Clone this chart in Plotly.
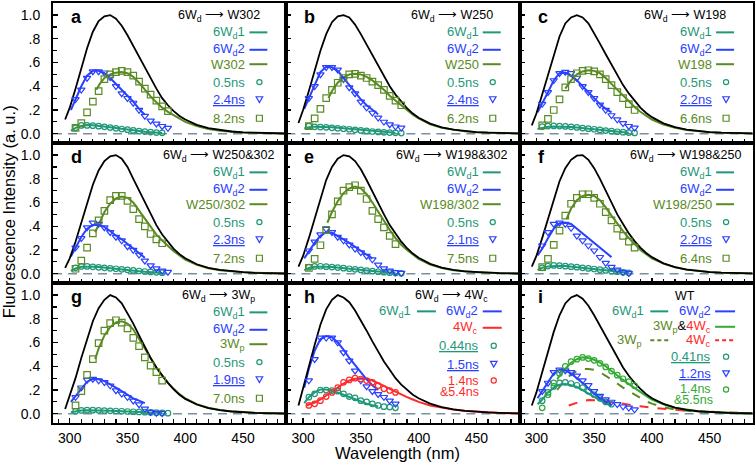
import plotly.graph_objects as go
from plotly.subplots import make_subplots

# ---------------- data ----------------
BLACK_X = [296, 300, 305, 310, 315, 320, 325, 330, 335, 340, 345, 350, 355, 360, 365, 370,
           375, 380, 385, 390, 395, 400, 410, 420, 430, 440, 450, 460, 470, 480, 487]
SYM_X = [305, 310, 315, 320, 325, 330, 335, 340, 345, 350, 355, 360, 365, 370, 375, 380, 385]
DFIT_X = [301, 305, 310, 315, 320, 325, 330, 335, 340, 345, 350, 355, 360, 365]
D1FIT_X = [301, 305, 310, 315, 320, 325, 330, 335, 340, 345, 350, 355, 360, 365, 370, 375, 380]

# panel a
A_BLACK = [0.12, 0.22, 0.38, 0.55, 0.72, 0.86, 0.95, 0.99, 1.0, 0.97, 0.91, 0.83, 0.74, 0.65, 0.56, 0.46,
           0.38, 0.30, 0.24, 0.19, 0.15, 0.12, 0.075, 0.047, 0.03, 0.019, 0.012, 0.008, 0.005, 0.003, 0.002]
A_TRI = [0.29, 0.37, 0.47, 0.525, 0.525, 0.515, 0.475, 0.40, 0.34, 0.30, 0.26, 0.20, 0.15, 0.11, 0.085, 0.064, 0.048]
A_CIR = [0.05, 0.07, 0.07, 0.068, 0.064, 0.058, 0.052, 0.046, 0.04, 0.034, 0.028, 0.022, 0.018, 0.014, 0.01, 0.008, None]
A_SQR = [0.05, 0.09, 0.18, 0.27, 0.36, 0.46, 0.50, 0.52, 0.53, 0.52, 0.49, 0.44, 0.38, 0.33, 0.28, 0.23, 0.19]
A_D2FIT = [0.2, 0.29, 0.4, 0.49, 0.53, 0.53, 0.51, 0.47, 0.42, 0.37, 0.32, 0.27, 0.21, 0.16]
A_D1FIT = [0.025, 0.05, 0.066, 0.073, 0.072, 0.068, 0.062, 0.055, 0.048, 0.041, 0.034, 0.028, 0.022, 0.017, 0.013, 0.01, 0.007]
A_ACC_X = [323, 326, 330, 335, 340, 345, 350, 355, 360, 365, 370, 375, 380, 385, 390, 395, 400,
           410, 420, 430, 440, 450, 460, 470, 480, 487]
A_ACC = [0.37, 0.42, 0.47, 0.50, 0.515, 0.52, 0.51, 0.48, 0.43, 0.37, 0.315, 0.265, 0.22, 0.185, 0.155, 0.125, 0.1,
         0.065, 0.04, 0.026, 0.016, 0.01, 0.006, 0.004, 0.003, 0.002]

# panel b
B_BLACK = [0.09, 0.2, 0.36, 0.53, 0.7, 0.84, 0.94, 0.99, 1.0, 0.98, 0.92, 0.84, 0.75, 0.66, 0.57, 0.48,
           0.4, 0.33, 0.27, 0.215, 0.17, 0.135, 0.085, 0.053, 0.034, 0.022, 0.014, 0.009, 0.006, 0.004, 0.003]
B_TRI = [0.30, 0.40, 0.50, 0.56, 0.56, 0.54, 0.46, 0.39, 0.34, 0.27, 0.22, 0.176, 0.134, 0.1, 0.078, 0.06, 0.05]
B_CIR = [0.064, 0.058, 0.056, 0.054, 0.05, 0.046, 0.042, 0.038, 0.033, 0.028, 0.024, 0.019, 0.015, 0.012, 0.01, 0.008, 0.006]
B_SQR = [0.065, 0.13, 0.21, 0.30, 0.37, 0.43, 0.47, 0.50, 0.505, 0.49, 0.47, 0.44, 0.41, 0.37, 0.32, 0.28, 0.24]
B_D2FIT = [0.21, 0.3, 0.42, 0.52, 0.565, 0.56, 0.53, 0.47, 0.41, 0.35, 0.29, 0.24, 0.2, 0.165]
B_D1FIT = [0.045, 0.055, 0.06, 0.06, 0.058, 0.055, 0.051, 0.047, 0.042, 0.037, 0.032, 0.027, 0.022, 0.018, 0.014, 0.011, 0.008]
B_ACC_X = [322, 325, 330, 335, 340, 345, 350, 355, 360, 365, 370, 375, 380, 385, 390, 395, 400,
           410, 420, 430, 440, 450, 460, 470, 480, 487]
B_ACC = [0.3, 0.36, 0.43, 0.475, 0.5, 0.505, 0.5, 0.48, 0.45, 0.41, 0.37, 0.32, 0.28, 0.235, 0.195, 0.16, 0.13,
         0.08, 0.05, 0.032, 0.02, 0.013, 0.008, 0.005, 0.004, 0.003]

# panel c
C_BLACK = [0.07, 0.17, 0.33, 0.5, 0.67, 0.82, 0.93, 0.98, 1.0, 0.98, 0.93, 0.85, 0.76, 0.67, 0.58, 0.49,
           0.41, 0.34, 0.275, 0.22, 0.175, 0.14, 0.088, 0.055, 0.035, 0.022, 0.014, 0.009, 0.006, 0.004, 0.003]
C_TRI = [0.25, 0.35, 0.45, 0.51, 0.52, 0.51, 0.47, 0.40, 0.35, 0.30, 0.245, 0.2, 0.155, 0.12, 0.088, 0.064, 0.05]
C_CIR = [0.06, 0.065, 0.066, 0.065, 0.062, 0.058, 0.053, 0.048, 0.043, 0.038, 0.032, 0.027, 0.022, 0.017, 0.013, 0.01, 0.007]
C_SQR = [0.07, 0.125, 0.2, 0.29, 0.39, 0.46, 0.51, 0.53, 0.535, 0.525, 0.5, 0.46, 0.41, 0.35, 0.3, 0.25, 0.2]
C_D2FIT = [0.18, 0.25, 0.35, 0.45, 0.51, 0.515, 0.49, 0.45, 0.4, 0.35, 0.3, 0.25, 0.21, 0.18]
C_D1FIT = [0.04, 0.05, 0.058, 0.062, 0.062, 0.06, 0.056, 0.052, 0.047, 0.042, 0.036, 0.03, 0.025, 0.02, 0.015, 0.011, 0.008]
C_ACC_X = [325, 330, 335, 340, 345, 350, 355, 360, 365, 370, 375, 380, 385, 390, 395, 400,
           410, 420, 430, 440, 450, 460, 470, 480, 487]
C_ACC = [0.38, 0.45, 0.5, 0.525, 0.535, 0.53, 0.51, 0.47, 0.42, 0.37, 0.32, 0.27, 0.225, 0.185, 0.15, 0.12,
         0.078, 0.05, 0.032, 0.02, 0.013, 0.008, 0.005, 0.004, 0.003]

# panel d
D_BLACK = [0.05, 0.13, 0.27, 0.43, 0.6, 0.75, 0.87, 0.95, 0.99, 1.0, 0.97, 0.9, 0.8, 0.7, 0.6, 0.5,
           0.41, 0.33, 0.265, 0.21, 0.165, 0.13, 0.08, 0.05, 0.032, 0.02, 0.013, 0.008, 0.005, 0.003, 0.002]
D_TRI = [0.22, 0.3, 0.39, 0.43, 0.42, 0.39, 0.35, 0.31, 0.28, 0.23, 0.2, 0.16, 0.11, 0.07, 0.045, 0.025, 0.015]
D_CIR = [0.05, 0.062, 0.062, 0.058, 0.054, 0.05, 0.046, 0.042, 0.037, 0.033, 0.028, 0.023, 0.019, 0.015, 0.012, 0.009, None]
D_SQR = [0.042, 0.11, 0.22, 0.34, 0.45, 0.53, 0.62, 0.656, 0.656, 0.615, 0.545, 0.46, 0.4, 0.335, 0.29, 0.257, None]
D_D2FIT = [0.145, 0.22, 0.31, 0.38, 0.41, 0.41, 0.395, 0.36, 0.32, 0.29, 0.25, 0.21, 0.17, 0.135]
D_D1FIT = [0.025, 0.045, 0.058, 0.062, 0.06, 0.056, 0.052, 0.047, 0.042, 0.037, 0.032, 0.027, 0.022, 0.017, 0.013, 0.01, 0.007]
D_ACC_X = [322, 325, 330, 335, 340, 345, 350, 355, 360, 365, 370, 375, 380, 385, 390, 395, 400,
           410, 420, 430, 440, 450, 460, 470, 480, 487]
D_ACC = [0.35, 0.42, 0.52, 0.59, 0.635, 0.65, 0.64, 0.6, 0.53, 0.46, 0.39, 0.33, 0.28, 0.235, 0.19, 0.155, 0.12,
         0.075, 0.047, 0.03, 0.019, 0.012, 0.008, 0.005, 0.003, 0.002]

# panel e
E_BLACK = [0.06, 0.15, 0.3, 0.47, 0.64, 0.79, 0.9, 0.97, 1.0, 0.99, 0.95, 0.88, 0.79, 0.69, 0.59, 0.5,
           0.41, 0.335, 0.27, 0.215, 0.17, 0.135, 0.083, 0.051, 0.032, 0.02, 0.013, 0.008, 0.005, 0.003, 0.002]
E_TRI = [0.195, 0.27, 0.33, 0.377, 0.35, 0.31, 0.28, 0.245, 0.21, 0.18, 0.15, 0.12, 0.075, 0.045, 0.025, 0.012, 0.006]
E_CIR = [0.055, 0.062, 0.063, 0.06, 0.056, 0.052, 0.047, 0.042, 0.037, 0.032, 0.027, 0.022, 0.017, 0.013, 0.009, 0.006, 0.004]
E_SQR = [0.05, 0.126, 0.24, 0.37, 0.5, 0.61, 0.7, 0.73, 0.746, 0.7, 0.63, 0.53, 0.46, 0.39, 0.32, 0.25, None]
E_D2FIT = [0.13, 0.19, 0.26, 0.32, 0.35, 0.345, 0.32, 0.29, 0.26, 0.225, 0.19, 0.16, 0.13, None]
E_D1FIT = [0.03, 0.048, 0.058, 0.062, 0.06, 0.057, 0.053, 0.048, 0.043, 0.038, 0.033, 0.028, 0.023, 0.018, 0.013, 0.009, 0.006]
E_ACC_X = [321, 325, 330, 335, 340, 345, 350, 355, 360, 365, 370, 375, 380, 385, 390, 395, 400,
           410, 420, 430, 440, 450, 460, 470, 480, 487]
E_ACC = [0.43, 0.52, 0.61, 0.68, 0.72, 0.735, 0.72, 0.67, 0.6, 0.52, 0.44, 0.37, 0.3, 0.245, 0.2, 0.16, 0.125,
         0.078, 0.048, 0.03, 0.019, 0.012, 0.008, 0.005, 0.003, 0.002]

# panel f
F_BLACK = [0.06, 0.15, 0.3, 0.46, 0.63, 0.78, 0.89, 0.96, 0.995, 1.0, 0.96, 0.89, 0.8, 0.7, 0.6, 0.5,
           0.42, 0.34, 0.275, 0.22, 0.175, 0.14, 0.088, 0.055, 0.035, 0.022, 0.014, 0.009, 0.006, 0.004, 0.003]
F_TRI = [0.237, 0.35, 0.42, 0.43, 0.42, 0.385, 0.32, 0.28, 0.237, 0.195, 0.14, 0.09, 0.056, 0.034, 0.014, 0.004, None]
F_CIR = [0.05, 0.065, 0.07, 0.068, 0.064, 0.06, 0.055, 0.05, 0.045, 0.04, 0.034, 0.028, 0.022, 0.017, 0.012, 0.008, None]
F_SQR = [0.056, 0.126, 0.243, 0.363, 0.49, 0.59, 0.64, 0.67, 0.67, 0.64, 0.59, 0.52, 0.45, 0.38, 0.32, 0.27, 0.22]
F_D2FIT = [0.155, 0.21, 0.3, 0.38, 0.425, 0.43, 0.42, 0.38, 0.34, 0.3, 0.26, 0.22, 0.18, 0.14]
F_D1FIT = [0.03, 0.05, 0.062, 0.068, 0.068, 0.065, 0.06, 0.055, 0.049, 0.043, 0.037, 0.031, 0.025, 0.02, 0.015, 0.011, 0.008]
F_ACC_X = [326, 330, 335, 340, 345, 350, 355, 360, 365, 370, 375, 380, 385, 390, 395, 400,
           410, 420, 430, 440, 450, 460, 470, 480, 487]
F_ACC = [0.46, 0.55, 0.62, 0.655, 0.665, 0.655, 0.62, 0.56, 0.49, 0.42, 0.36, 0.3, 0.25, 0.2, 0.165, 0.13,
         0.085, 0.055, 0.035, 0.022, 0.014, 0.009, 0.006, 0.004, 0.003]

# panel g
G_BLACK = [0.04, 0.15, 0.3, 0.47, 0.63, 0.78, 0.89, 0.96, 1.0, 0.98, 0.93, 0.85, 0.76, 0.66, 0.56, 0.47,
           0.39, 0.32, 0.26, 0.205, 0.16, 0.125, 0.078, 0.048, 0.03, 0.019, 0.012, 0.008, 0.005, 0.003, 0.002]
G_TRI = [0.14, 0.22, 0.285, 0.293, 0.28, 0.265, 0.237, 0.196, 0.168, 0.14, 0.11, 0.078, 0.042, 0.014, 0.006, 0.004, None]
G_CIR = [0.02, 0.028, 0.03, 0.03, 0.029, 0.027, 0.025, 0.023, 0.021, 0.019, 0.017, 0.015, 0.013, 0.011, 0.009, 0.007, 0.005]
G_SQR = [0.07, 0.19, 0.327, 0.46, 0.595, 0.7, 0.763, 0.788, 0.768, 0.72, 0.64, 0.57, 0.475, 0.405, 0.35, 0.28, None]
G_D2FIT = [0.1, 0.15, 0.21, 0.27, 0.295, 0.29, 0.275, 0.25, 0.22, 0.19, 0.16, 0.13, 0.11, 0.09]
G_D1FIT = [0.012, 0.02, 0.027, 0.03, 0.03, 0.029, 0.027, 0.025, 0.023, 0.021, 0.019, 0.017, 0.015, 0.013, 0.011, 0.009, 0.007]
G_ACC_X = [322, 325, 330, 335, 340, 345, 350, 355, 360, 365, 370, 375, 380, 385, 390, 395, 400,
           410, 420, 430, 440, 450, 460, 470, 480, 487]
G_ACC = [0.46, 0.55, 0.66, 0.73, 0.77, 0.78, 0.76, 0.71, 0.63, 0.55, 0.46, 0.39, 0.32, 0.26, 0.21, 0.165, 0.13,
         0.08, 0.05, 0.031, 0.02, 0.012, 0.008, 0.005, 0.003, 0.002]

# panel h
H_BLACK = [0.07, 0.22, 0.4, 0.58, 0.75, 0.88, 0.96, 1.0, 0.98, 0.94, 0.87, 0.79, 0.7, 0.61, 0.52, 0.44,
           0.37, 0.3, 0.245, 0.2, 0.16, 0.13, 0.085, 0.055, 0.036, 0.024, 0.016, 0.011, 0.007, 0.005, 0.003]
H_TRI = [0.28, 0.46, 0.64, 0.64, 0.64, 0.6, 0.517, 0.447, 0.363, 0.28, 0.23, 0.19, 0.165, 0.14, 0.11, 0.084, None]
H_CIR = [0.14, 0.168, 0.2, 0.2, 0.195, 0.19, 0.168, 0.145, 0.134, 0.11, 0.1, 0.084, 0.07, 0.06, 0.056, 0.05, None]
H_RCIR = [0.07, 0.084, 0.11, 0.145, 0.18, 0.22, 0.265, 0.285, 0.3, 0.293, 0.28, 0.265, 0.237, 0.21, 0.196, 0.18, None]
H_D2FIT = [0.22, 0.38, 0.53, 0.63, 0.655, 0.645, 0.6, 0.54, 0.47, 0.41, 0.35, 0.29, 0.24, 0.2]
H_D1FIT = [0.09, 0.14, 0.18, 0.205, 0.205, 0.195, 0.18, 0.16, 0.14, 0.12, 0.1, 0.085, 0.072, 0.062, None, None, None]
H_RED_X = [303, 310, 315, 320, 325, 330, 335, 340, 345, 350, 355, 360, 365, 370, 375, 380, 385, 390, 395, 400,
           410, 420, 430, 440, 450, 460, 470, 480, 487]
H_RED = [0.07, 0.095, 0.12, 0.15, 0.185, 0.22, 0.255, 0.28, 0.295, 0.3, 0.295, 0.28, 0.26, 0.235, 0.21, 0.185,
         0.16, 0.14, 0.12, 0.1, 0.07, 0.05, 0.035, 0.025, 0.017, 0.011, 0.007, 0.005, 0.004]

# panel i
I_BLACK = [0.07, 0.18, 0.35, 0.52, 0.69, 0.83, 0.93, 0.98, 1.0, 0.97, 0.91, 0.83, 0.74, 0.65, 0.56, 0.47,
           0.39, 0.32, 0.26, 0.21, 0.165, 0.13, 0.083, 0.052, 0.033, 0.021, 0.014, 0.009, 0.006, 0.004, 0.003]
I_TRI = [0.19, 0.26, 0.35, 0.37, 0.365, 0.35, 0.32, 0.28, 0.24, 0.19, 0.15, 0.12, 0.1, 0.08, 0.06, 0.05, 0.035]
I_CIR = [0.11, 0.18, 0.23, 0.26, 0.265, 0.255, 0.24, 0.22, 0.19, 0.16, 0.13, 0.1, 0.08, None, None, None, None]
I_GCIR = [0.05, 0.16, 0.26, 0.34, 0.4, 0.44, 0.46, 0.475, 0.465, 0.45, 0.425, 0.395, 0.36, 0.325, 0.295, 0.27, 0.237]
I_D2FIT = [0.13, 0.19, 0.27, 0.34, 0.37, 0.365, 0.34, 0.3, 0.26, 0.21, 0.17, 0.13, 0.1, 0.075]
I_D1FIT = [0.08, 0.12, 0.18, 0.22, 0.245, 0.25, 0.24, 0.225, 0.2, 0.17, 0.14, 0.11, 0.085, 0.07, None, None, None]
I_GREEN_X = [318, 320, 325, 330, 335, 340, 345, 350, 355, 360, 365, 370, 375, 380, 385, 390, 395, 400,
             410, 420, 430, 440, 450, 460, 470, 480, 487]
I_GREEN = [0.29, 0.32, 0.38, 0.43, 0.46, 0.475, 0.47, 0.455, 0.43, 0.4, 0.36, 0.32, 0.285, 0.25, 0.215, 0.18, 0.15, 0.12,
           0.08, 0.05, 0.033, 0.022, 0.014, 0.009, 0.006, 0.004, 0.003]
I_OLIVE_X = [318, 325, 330, 335, 340, 345, 350, 355, 360, 365, 370, 375, 380, 385, 390, 395, 400,
             410, 420, 430, 440, 450, 460, 470, 480, 487]
I_OLIVE = [0.2, 0.29, 0.33, 0.36, 0.375, 0.378, 0.37, 0.35, 0.32, 0.29, 0.255, 0.22, 0.19, 0.16, 0.13, 0.105, 0.085,
           0.055, 0.035, 0.024, 0.016, 0.01, 0.007, 0.005, 0.003, 0.002]
I_REDD_X = [328, 335, 340, 345, 350, 355, 360, 365, 370, 380, 390, 400, 410, 420, 430, 440, 450, 460, 470, 480, 487]
I_REDD = [0.07, 0.095, 0.108, 0.115, 0.117, 0.113, 0.105, 0.097, 0.09, 0.077, 0.063, 0.05, 0.04, 0.032, 0.026,
          0.02, 0.015, 0.011, 0.008, 0.006, 0.005]

# labels
PANEL_LETTERS = ["a", "b", "c", "d", "e", "f", "g", "h", "i"]
TITLES = ["6W<sub>d</sub> ⟶ W302", "6W<sub>d</sub> ⟶ W250", "6W<sub>d</sub> ⟶ W198",
          "6W<sub>d</sub> ⟶ W250&amp;302", "6W<sub>d</sub> ⟶ W198&amp;302", "6W<sub>d</sub> ⟶ W198&amp;250",
          "6W<sub>d</sub> ⟶ 3W<sub>p</sub>", "6W<sub>d</sub> ⟶ 4W<sub>c</sub>", "WT"]
ACC_NAMES = ["W302", "W250", "W198", "W250/302", "W198/302", "W198/250", "3W<sub>p</sub>"]
TAU1 = ["0.5ns", "0.5ns", "0.5ns", "0.5ns", "0.5ns", "0.5ns", "0.5ns"]
TAU2 = ["2.4ns", "2.4ns", "2.2ns", "2.3ns", "2.1ns", "2.2ns", "1.9ns"]
TAU3 = ["8.2ns", "6.2ns", "6.6ns", "7.2ns", "7.5ns", "6.4ns", "7.0ns"]
X_TICKS = [300, 350, 400, 450]
Y_TICKS = [0.0, 0.2, 0.4, 0.6, 0.8, 1.0]
Y_TICKTEXT = ["0.0", ".2", ".4", ".6", ".8", "1.0"]

# ---------------- styling ----------------
TEAL = "#1e9878"
BLUE = "#2a40ff"
OLIVE = "#5a8a22"
RED = "#ff2a2a"
GREEN = "#33aa33"
ZERO = "#7890a0"
FONT = "Liberation Sans, Arial, sans-serif"

W, H = 756, 466
PL, PT, PW, PH = 53, 1, 702, 422
CW, RH = PW / 3, PH / 3
XR = [285.5, 487.5]
YR = [-0.078, 1.102]


def X(px):
    return (px - PL) / PW


def Y(py):
    return 1 - (py - PT) / PH


fig = make_subplots(rows=3, cols=3, horizontal_spacing=0, vertical_spacing=0)


def line(k, x, y, color, width=2.0, dash=None):
    r, c = divmod(k, 3)
    fig.add_trace(go.Scatter(x=x, y=y, mode="lines", line=dict(color=color, width=width, dash=dash),
                             showlegend=False, hoverinfo="skip"), row=r + 1, col=c + 1)


def marks(k, x, y, color, symbol, size):
    r, c = divmod(k, 3)
    fig.add_trace(go.Scatter(x=x, y=y, mode="markers",
                             marker=dict(symbol=symbol, size=size, color=color, line=dict(width=1.2, color=color)),
                             showlegend=False, hoverinfo="skip"), row=r + 1, col=c + 1)


STD = [
    (A_BLACK, A_D1FIT, A_D2FIT, A_ACC_X, A_ACC, A_CIR, A_TRI, A_SQR),
    (B_BLACK, B_D1FIT, B_D2FIT, B_ACC_X, B_ACC, B_CIR, B_TRI, B_SQR),
    (C_BLACK, C_D1FIT, C_D2FIT, C_ACC_X, C_ACC, C_CIR, C_TRI, C_SQR),
    (D_BLACK, D_D1FIT, D_D2FIT, D_ACC_X, D_ACC, D_CIR, D_TRI, D_SQR),
    (E_BLACK, E_D1FIT, E_D2FIT, E_ACC_X, E_ACC, E_CIR, E_TRI, E_SQR),
    (F_BLACK, F_D1FIT, F_D2FIT, F_ACC_X, F_ACC, F_CIR, F_TRI, F_SQR),
    (G_BLACK, G_D1FIT, G_D2FIT, G_ACC_X, G_ACC, G_CIR, G_TRI, G_SQR),
]

for k, (blk, d1, d2, ax, ac, cir, tri, sqr) in enumerate(STD):
    line(k, ax, ac, OLIVE, 2.0)
    line(k, D1FIT_X, d1, TEAL, 2.0)
    line(k, DFIT_X, d2, BLUE, 2.0)
    line(k, BLACK_X, blk, "black", 1.8)
    marks(k, SYM_X, cir, TEAL, "circle-open", 5.5)
    marks(k, SYM_X, tri, BLUE, "triangle-down-open", 6.5)
    marks(k, SYM_X, sqr, OLIVE, "square-open", 6.5)

# panel h
line(7, H_RED_X, H_RED, RED, 2.0)
line(7, D1FIT_X, H_D1FIT, TEAL, 2.0)
line(7, DFIT_X, H_D2FIT, BLUE, 2.0)
line(7, BLACK_X, H_BLACK, "black", 1.8)
marks(7, SYM_X, H_CIR, TEAL, "circle-open", 5.5)
marks(7, SYM_X, H_TRI, BLUE, "triangle-down-open", 6.5)
marks(7, SYM_X, H_RCIR, RED, "circle-open", 5.5)

# panel i
line(8, I_OLIVE_X, I_OLIVE, OLIVE, 2.0, "dash")
line(8, I_REDD_X, I_REDD, RED, 2.0, "dash")
line(8, I_GREEN_X, I_GREEN, GREEN, 2.0)
line(8, D1FIT_X, I_D1FIT, TEAL, 2.0)
line(8, DFIT_X, I_D2FIT, BLUE, 2.0)
line(8, BLACK_X, I_BLACK, "black", 1.8)
marks(8, SYM_X, I_CIR, TEAL, "circle-open", 5.5)
marks(8, SYM_X, I_TRI, BLUE, "triangle-down-open", 6.5)
marks(8, SYM_X, I_GCIR, GREEN, "circle-open", 5.5)

# ---------------- axes ----------------
for k in range(9):
    r, c = divmod(k, 3)
    sfx = "" if k == 0 else str(k + 1)
    fig.layout["xaxis" + sfx].update(
        range=XR, tickmode="array", tickvals=X_TICKS, ticks="inside", ticklen=5, tickwidth=1.3,
        tickcolor="black", minor=dict(tickmode="linear", tick0=300, dtick=10, ticks="inside", ticklen=4,
                                      tickwidth=1.2, tickcolor="black"),
        showline=True, linewidth=2, linecolor="black", mirror=True, showgrid=False, zeroline=False,
        showticklabels=(r == 2), tickfont=dict(size=14, family=FONT, color="black"), ticklabelstandoff=1)
    fig.layout["yaxis" + sfx].update(
        range=YR, tickmode="array", tickvals=Y_TICKS, ticktext=Y_TICKTEXT, ticks="inside", ticklen=5,
        tickwidth=1.3, tickcolor="black",
        minor=dict(tickmode="linear", tick0=0.1, dtick=0.2, ticks="inside", ticklen=4, tickwidth=1.2,
                   tickcolor="black"),
        showline=True, linewidth=2, linecolor="black", mirror=True, showgrid=False, zeroline=False,
        showticklabels=(c == 0), tickfont=dict(size=14, family=FONT, color="black"), ticklabelstandoff=8)

# ---------------- decorations ----------------
shapes = []
anns = []


def txt(x, y, s, color="black", size=13, xanchor="right", bold=False, angle=0):
    anns.append(dict(x=X(x), y=Y(y), xref="paper", yref="paper", text=("<b>%s</b>" % s) if bold else s,
                     showarrow=False, xanchor=xanchor, yanchor="middle", textangle=angle,
                     font=dict(size=size, color=color, family=FONT), borderpad=0))


def seg(x0, x1, y, color, dash=None):
    shapes.append(dict(type="line", xref="paper", yref="paper", x0=X(x0), x1=X(x1), y0=Y(y), y1=Y(y),
                       line=dict(color=color, width=2, dash=dash)))


def sym(kind, cx, cy, color):
    if kind == "circle":
        shapes.append(dict(type="circle", xref="paper", yref="paper", x0=X(cx - 2.6), x1=X(cx + 2.6),
                           y0=Y(cy + 2.6), y1=Y(cy - 2.6), line=dict(color=color, width=1.2)))
    elif kind == "square":
        shapes.append(dict(type="rect", xref="paper", yref="paper", x0=X(cx - 3), x1=X(cx + 3),
                           y0=Y(cy + 3), y1=Y(cy - 3), line=dict(color=color, width=1.2)))
    else:
        p = "M %f,%f L %f,%f L %f,%f Z" % (X(cx - 3.3), Y(cy - 2.8), X(cx + 3.3), Y(cy - 2.8), X(cx), Y(cy + 3.0))
        shapes.append(dict(type="path", xref="paper", yref="paper", path=p, line=dict(color=color, width=1.2)))


for k in range(9):
    r, c = divmod(k, 3)
    L = PL + c * CW
    T = PT + r * RH
    sfx = "" if k == 0 else str(k + 1)
    shapes.append(dict(type="line", xref="x%s domain" % sfx, yref="y" + sfx, x0=0, x1=1, y0=0, y1=0,
                       layer="below", line=dict(color=ZERO, width=1.5, dash="9px,6px")))
    txt(L + 17, T + 14.5, PANEL_LETTERS[k], size=18, xanchor="left", bold=True)
    txt(L + 166, T + 13, TITLES[k], size=12.5, xanchor="center")

for k in range(7):
    r, c = divmod(k, 3)
    L = PL + c * CW
    T = PT + r * RH
    rows = [(29.5, "6W<sub>d</sub>1", TEAL, "line"), (47, "6W<sub>d</sub>2", BLUE, "line"),
            (61.5, ACC_NAMES[k], OLIVE, "line"), (79.5, TAU1[k], TEAL, "circle"),
            (97, "<u>%s</u>" % TAU2[k], BLUE, "tri"), (115.8, TAU3[k], OLIVE, "square")]
    for yy, s, col, kind in rows:
        txt(L + 194, T + yy, s, col)
        if kind == "line":
            seg(L + 197, L + 215, T + yy, col)
        else:
            sym(kind, L + 207, T + yy, col)

# panel h legend
L = PL + 1 * CW
T = PT + 2 * RH
txt(L + 126, T + 28.5, "6W<sub>d</sub>1", TEAL)
seg(L + 131, L + 150, T + 28.5, TEAL)
txt(L + 193, T + 28.5, "6W<sub>d</sub>2", BLUE)
seg(L + 197, L + 216, T + 28.5, BLUE)
txt(L + 193, T + 45, "4W<sub>c</sub>", RED)
seg(L + 197, L + 216, T + 45, RED)
txt(L + 194, T + 63, "<u>0.44ns</u>", TEAL)
sym("circle", L + 208, T + 63, TEAL)
txt(L + 194, T + 81.5, "<u>1.5ns</u>", BLUE)
sym("tri", L + 208, T + 81.5, BLUE)
txt(L + 194, T + 98, "1.4ns", RED, size=12.5)
sym("circle", L + 208, T + 98, RED)
txt(L + 194, T + 110, "&amp;5.4ns", RED, size=12.5)

# panel i legend
L = PL + 2 * CW
T = PT + 2 * RH
txt(L + 126, T + 28.5, "6W<sub>d</sub>1", TEAL)
seg(L + 131, L + 149, T + 28.5, TEAL)
txt(L + 193, T + 28.5, "6W<sub>d</sub>2", BLUE)
seg(L + 196, L + 216, T + 28.5, BLUE)
txt(L + 193, T + 44,
    '<span style="color:%s">3W<sub>p</sub></span>&amp;<span style="color:%s">4W<sub>c</sub></span>' % (OLIVE, RED),
    "black")
seg(L + 196, L + 216, T + 44, GREEN)
txt(L + 124, T + 57.5, "3W<sub>p</sub>", OLIVE)
seg(L + 131, L + 149, T + 57.5, OLIVE, "4px,3px")
txt(L + 193, T + 57.5, "4W<sub>c</sub>", RED)
seg(L + 196, L + 216, T + 57.5, RED, "4px,3px")
txt(L + 193, T + 74, "<u>0.41ns</u>", TEAL)
sym("circle", L + 207, T + 74, TEAL)
txt(L + 193, T + 91, "<u>1.2ns</u>", BLUE)
sym("tri", L + 207, T + 91, BLUE)
txt(L + 193, T + 107, "1.4ns", GREEN, size=12.5)
sym("circle", L + 207, T + 107, GREEN)
txt(L + 195, T + 118, "&amp;5.5ns", GREEN, size=12.5)

# axis titles
txt(398, 453.5, "Wavelength (nm)", size=16.5, xanchor="center")
txt(9, 211, "Fluorescence Intensity (a. u.)", size=16.5, xanchor="center", angle=-90)

fig.update_layout(width=W, height=H, margin=dict(l=PL, r=W - PL - PW, t=PT, b=H - PT - PH),
                  plot_bgcolor="white", paper_bgcolor="white", showlegend=False,
                  font=dict(family=FONT, color="black"), shapes=shapes, annotations=anns)

fig.write_html("out.html", config={"displayModeBar": False, "staticPlot": True},
               post_script="document.body.style.margin='0';document.body.style.overflow='hidden';")
